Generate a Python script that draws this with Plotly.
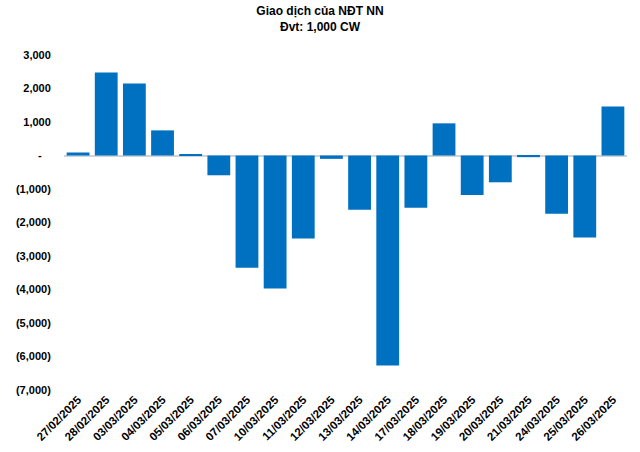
import plotly.graph_objects as go

dates = ["27/02/2025", "28/02/2025", "03/03/2025", "04/03/2025", "05/03/2025",
         "06/03/2025", "07/03/2025", "10/03/2025", "11/03/2025", "12/03/2025",
         "13/03/2025", "14/03/2025", "17/03/2025", "18/03/2025", "19/03/2025",
         "20/03/2025", "21/03/2025", "24/03/2025", "25/03/2025", "26/03/2025"]
values = [90, 2480, 2150, 750, 30,
          -590, -3350, -3970, -2480, -100,
          -1620, -6270, -1560, 960, -1180,
          -800, -50, -1740, -2450, 1460]
tick_vals = [3000, 2000, 1000, 0, -1000, -2000, -3000, -4000, -5000, -6000, -7000]
tick_text = ["3,000", "2,000", "1,000", "-\u00a0\u00a0\u00a0", "(1,000)", "(2,000)", "(3,000)",
             "(4,000)", "(5,000)", "(6,000)", "(7,000)"]

fig = go.Figure(go.Bar(x=dates, y=values, marker=dict(color="#0070C0", line=dict(width=0))))

fig.update_layout(
    width=640, height=452,
    margin=dict(l=64, r=13, t=55, b=62),
    paper_bgcolor="white", plot_bgcolor="white",
    bargap=0.19,
    showlegend=False,
    font=dict(family="Liberation Sans, Arial, sans-serif", color="black"),
    title=dict(text="<b>Giao dịch của NĐT NN<br>Đvt: 1,000 CW</b>",
               x=0.5, xanchor="center", yref="container", y=0.966, yanchor="middle",
               font=dict(size=12, color="black")),
)
fig.update_xaxes(type="category", tickangle=-45, showgrid=False, showline=False, automargin=False,
                 ticks="", tickfont=dict(size=11.5, family="Liberation Sans, Arial", weight="bold"))
fig.update_yaxes(range=[-7000, 3000], tickvals=tick_vals, ticktext=tick_text, automargin=False,
                 showgrid=False, zeroline=True, zerolinecolor="#D0D4DA", zerolinewidth=1.5,
                 ticks="outside", ticklen=10, tickcolor="rgba(0,0,0,0)",
                 tickfont=dict(size=11, family="Liberation Sans, Arial", weight="bold"))

fig.write_html("out.html")
